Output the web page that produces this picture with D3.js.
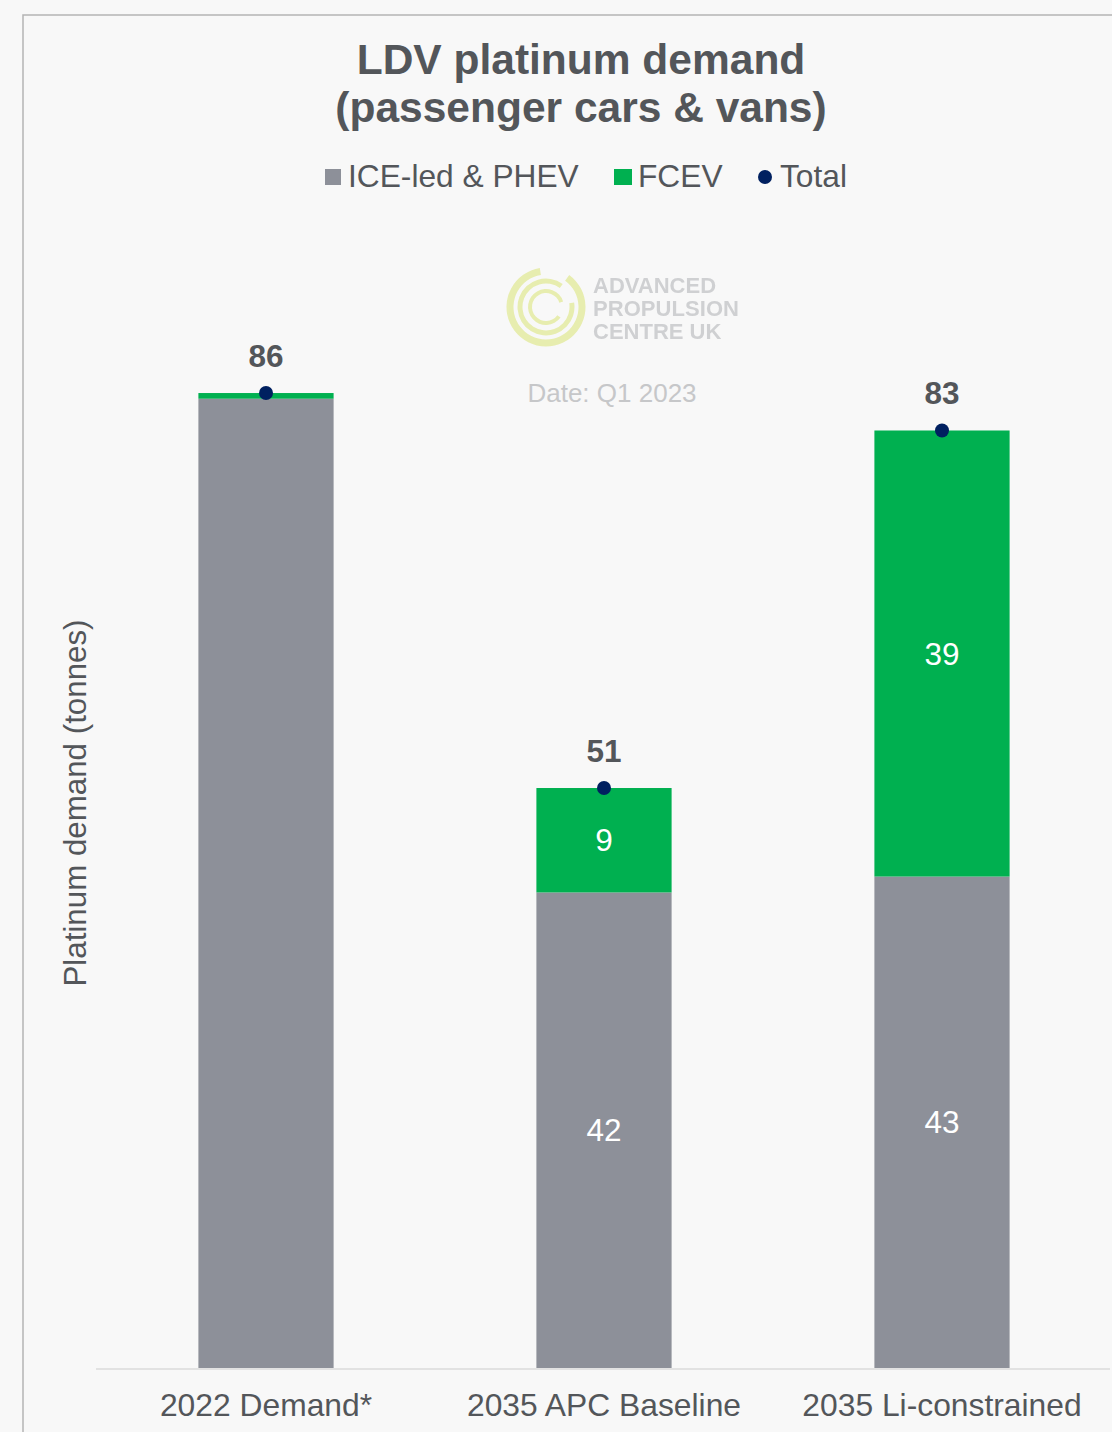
<!DOCTYPE html>
<html>
<head>
<meta charset="utf-8">
<script src="https://cdn.jsdelivr.net/npm/d3@7"></script>
<style>
  html, body { margin: 0; padding: 0; background: #f8f8f8; }
  svg { display: block; font-family: "Liberation Sans", Arial, sans-serif; }
</style>
</head>
<body>
<svg id="chart" width="1112" height="1432"></svg>
<script>
// Scenario categories and stacked series values (tonnes of platinum)
const categories = ["2022 Demand*", "2035 APC Baseline", "2035 Li-constrained"];
const iceValues  = [85.4, 41.9, 43.3];
const fcevValues = [0.5, 9.2, 39.3];
const seriesNames = ["ICE-led & PHEV", "FCEV", "Total"];
const yDomain = [0, 100];

const colors = { ice: "#8d9099", fcev: "#00b050", total: "#002060", text: "#53565a" };

const W = 1112, H = 1432;
const svg = d3.select("#chart");

// Outer frame
svg.append("rect").attr("x", 0).attr("y", 0).attr("width", W).attr("height", H).attr("fill", "#f8f8f8");
svg.append("rect").attr("x", 23).attr("y", 15).attr("width", W + 20).attr("height", H + 20)
  .attr("fill", "#f8f8f8").attr("stroke", "#b4b4b4").attr("stroke-width", 1.5);

const rows = categories.map((c, i) => ({
  cat: c, ice: iceValues[i], fcev: fcevValues[i], total: iceValues[i] + fcevValues[i]
}));

const x = d3.scaleBand().domain(categories).range([97, 1111]).paddingInner(0.6).paddingOuter(0.3);
const y = d3.scaleLinear().domain(yDomain).range([1368, 233]);

// Title
const title = svg.append("text").attr("text-anchor", "middle").attr("fill", colors.text)
  .attr("font-weight", "bold").attr("font-size", 42.5);
title.append("tspan").attr("x", 581).attr("y", 74).text("LDV platinum demand");
title.append("tspan").attr("x", 581).attr("y", 122).text("(passenger cars & vans)");

// Legend
const legend = svg.append("g").attr("font-size", 31.7).attr("fill", colors.text);
legend.append("rect").attr("x", 325).attr("y", 169).attr("width", 16).attr("height", 16).attr("fill", colors.ice);
legend.append("text").attr("x", 348).attr("y", 187).text(seriesNames[0]);
legend.append("rect").attr("x", 614).attr("y", 169).attr("width", 18).attr("height", 16).attr("fill", colors.fcev);
legend.append("text").attr("x", 638).attr("y", 187).text(seriesNames[1]);
legend.append("circle").attr("cx", 765).attr("cy", 177).attr("r", 7).attr("fill", colors.total);
legend.append("text").attr("x", 780).attr("y", 187).text(seriesNames[2]);

// Watermark logo
const logo = svg.append("g").attr("transform", "translate(546,307)").attr("opacity", 0.9);
const arc = d3.arc();
[[36, 7, 0.2, 1.95], [26, 5, 0.45, 2.2], [16, 4, 0.7, 2.4]].forEach(([r, w, a0, a1]) => {
  logo.append("path")
    .attr("d", arc({ innerRadius: r - w / 2, outerRadius: r + w / 2,
      startAngle: Math.PI * a0, endAngle: Math.PI * a1 }))
    .attr("fill", "#e6eca8");
});
const wm = svg.append("g").attr("fill", "#cfd0d2").attr("font-size", 22).attr("font-weight", "bold")
  .style("filter", "blur(0.6px)");
["ADVANCED", "PROPULSION", "CENTRE UK"].forEach((t, i) => {
  wm.append("text").attr("x", 593).attr("y", 293 + i * 23).attr("textLength", i === 1 ? 146 : null).text(t);
});
svg.append("text").attr("x", 612).attr("y", 402).attr("text-anchor", "middle")
  .attr("font-size", 26).attr("fill", "#c6c7c9").text("Date: Q1 2023");

// Axis baseline
svg.append("line").attr("x1", 96).attr("x2", 1110).attr("y1", 1369).attr("y2", 1369)
  .attr("stroke", "#e2e2e2").attr("stroke-width", 2);

// Stacked bars
const bars = svg.append("g");
rows.forEach(d => {
  bars.append("rect").attr("x", x(d.cat)).attr("width", x.bandwidth())
    .attr("y", y(d.ice)).attr("height", y(0) - y(d.ice)).attr("fill", colors.ice);
  bars.append("rect").attr("x", x(d.cat)).attr("width", x.bandwidth())
    .attr("y", y(d.total)).attr("height", y(d.ice) - y(d.total)).attr("fill", colors.fcev);
});

// Segment labels (skip the sliver in 2022)
const fmt = d3.format(".0f");
const labels = svg.append("g").attr("font-size", 31.5).attr("fill", "#ffffff").attr("text-anchor", "middle");
rows.forEach(d => {
  if (d.cat !== categories[0]) {
    labels.append("text").attr("x", x(d.cat) + x.bandwidth() / 2)
      .attr("y", (y(0) + y(d.ice)) / 2).attr("dy", "0.35em").text(fmt(d.ice));
    labels.append("text").attr("x", x(d.cat) + x.bandwidth() / 2)
      .attr("y", (y(d.ice) + y(d.total)) / 2).attr("dy", "0.35em").text(fmt(d.fcev));
  }
});

// Total markers and labels
rows.forEach(d => {
  const cx = x(d.cat) + x.bandwidth() / 2;
  svg.append("circle").attr("cx", cx).attr("cy", y(d.total)).attr("r", 7).attr("fill", colors.total);
  svg.append("text").attr("x", cx).attr("y", y(d.total) - 26).attr("text-anchor", "middle")
    .attr("font-size", 31.5).attr("font-weight", "bold").attr("fill", colors.text).text(fmt(d.total));
});

// Category axis labels
const xAxis = svg.append("g").attr("transform", "translate(0,1369)")
  .call(d3.axisBottom(x).tickSize(0).tickPadding(0));
xAxis.select(".domain").remove();
xAxis.selectAll("text").attr("font-size", 31.8).attr("fill", colors.text)
  .attr("font-family", "Liberation Sans, Arial, sans-serif").attr("dy", "1.47em");

// Y axis title
svg.append("text").attr("transform", "translate(86,803) rotate(-90)").attr("text-anchor", "middle")
  .attr("font-size", 31.3).attr("fill", colors.text).text("Platinum demand (tonnes)");
</script>
</body>
</html>
